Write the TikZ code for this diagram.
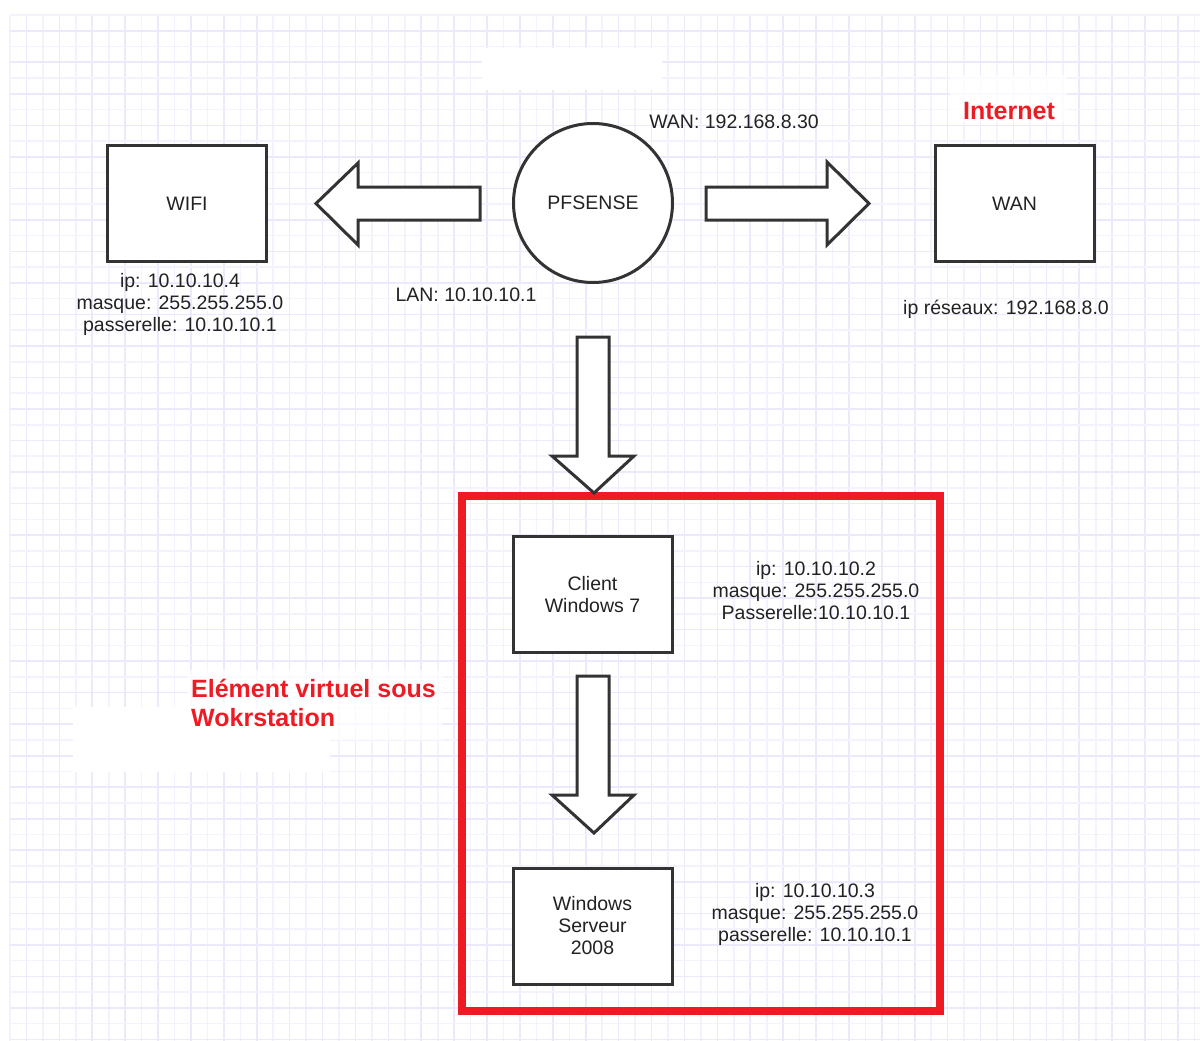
\documentclass[tikz,border=0pt]{standalone}
\usepackage{fontspec}
\setmainfont{Liberation Sans}
\definecolor{boxgray}{HTML}{333333}
\definecolor{txt}{HTML}{222222}
\definecolor{redc}{HTML}{ED1C24}
\definecolor{gridA}{RGB}{243,243,254}
\definecolor{gridB}{RGB}{234,234,252}
\begin{document}
\begin{tikzpicture}[x=1pt,y=-1pt,
  box/.style={draw=boxgray, line width=3pt, fill=white, minimum width=159pt, minimum height=116pt, inner sep=0pt, font=\fontsize{19.5}{22}\selectfont, align=center, text=txt},
  lbl/.style={font=\fontsize{19.5}{22}\selectfont, align=center, text=txt, inner sep=0pt},
  redlbl/.style={font=\fontsize{25}{29}\selectfont\bfseries, text=redc, inner sep=0pt, align=left},
  blockarrow/.style={draw=boxgray, line width=3pt, fill=white, line join=miter}]
\useasboundingbox (0,0) rectangle (1200,1041);
\fill[white] (0,0) rectangle (1200,1041);
% grid
\foreach \i [evaluate=\i as \xx using 10+\i*16.45] in {0,...,72} {
  \ifodd\i \def\gc{gridB}\else \def\gc{gridA}\fi
  \draw[draw=\gc, line width=1.6pt] (\xx,15) -- (\xx,1041);
}
\foreach \i [evaluate=\i as \yy using 15+\i*15.76] in {0,...,65} {
  \ifodd\i \def\gc{gridB}\else \def\gc{gridA}\fi
  \draw[draw=\gc, line width=1.6pt] (10,\yy) -- (1200,\yy);
}
% white patches
\fill[white] (482,48) rectangle (662,90);
\fill[white, opacity=0.8] (950,75) rectangle (1067,122);
\fill[white] (73,707) rectangle (330,772);
\fill[white, opacity=0.7] (187,670) rectangle (443,740);
\fill[white, opacity=0.6] (395,284) rectangle (552,305);

% nodes
\node[box] (wifi) at (187,203.5) {WIFI};
\node[box] (wan) at (1014.5,203.5) {WAN};
\node[draw=boxgray, line width=3pt, fill=white, circle, minimum size=159pt, inner sep=0pt, font=\fontsize{19.5}{22}\selectfont, text=txt] (pf) at (593,203) {PFSENSE};
\draw[draw=redc, line width=8pt] (462,496) rectangle (940,1011);
\node[box] (client) at (592.5,594.5) {Client\\Windows 7};
\node[box] (server) at (592.5,926) {Windows\\Serveur\\2008};

% block arrows
\draw[blockarrow] (480,187) -- (358,187) -- (358,163) -- (316,203.5) -- (358,245) -- (358,220) -- (480,220) -- cycle;
\draw[blockarrow] (706,187) -- (827,187) -- (827,162) -- (869,203.5) -- (827,245) -- (827,220) -- (706,220) -- cycle;
\draw[blockarrow] (577,337) -- (609,337) -- (609,456) -- (634,456) -- (594,493) -- (552,456) -- (577,456) -- cycle;
\draw[blockarrow] (577,676) -- (609,676) -- (609,795) -- (634,795) -- (594,833) -- (552,795) -- (577,795) -- cycle;

% labels
\node[lbl] (wifiip) at (180,304) {ip: 10.10.10.4\\masque: 255.255.255.0\\passerelle: 10.10.10.1};
\node[lbl] (lan) at (466,295) {LAN: 10.10.10.1};
\node[lbl] (wanip) at (734,122) {WAN: 192.168.8.30};
\node[redlbl] (internet) at (1009,111) {Internet};
\node[lbl] (reseau) at (1006,309) {ip réseaux: 192.168.8.0};
\node[lbl] (clientip) at (816,590.5) {ip: 10.10.10.2\\masque: 255.255.255.0\\Passerelle:10.10.10.1};
\node[lbl] (serverip) at (815,914) {ip: 10.10.10.3\\masque: 255.255.255.0\\passerelle: 10.10.10.1};
\node[redlbl, anchor=north west] (virt) at (191,679) {Elément virtuel sous\\Wokrstation};
\end{tikzpicture}
\end{document}
